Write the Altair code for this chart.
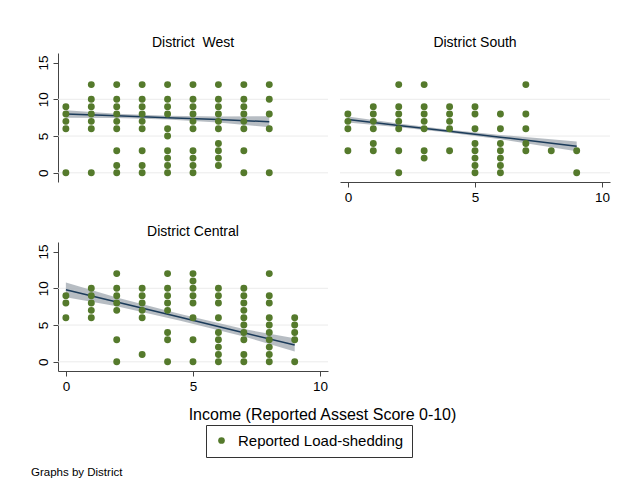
import altair as alt
import pandas as pd

FONT = "Liberation Sans"
DOT = "#557a2c"
LINE = "#1b3b5a"
BAND = "#aab2b9"
legend_label = "Reported Load-shedding"

x_ticks = [0, 5, 10]
y_ticks = [0, 5, 10, 15]
grid_values = [0, 5, 10]
x_domain = [-0.31, 10.31]
y_domain = [-1.25, 16.3]

# observed points: income score -> reported load-shedding values
west_y_by_x = {
    0: [9, 8, 7, 6, 0],
    1: [12, 10, 9, 8, 7, 6, 0],
    2: [12, 10, 9, 8, 7, 6, 3, 1, 0],
    3: [12, 10, 9, 8, 7, 6, 3, 1, 0],
    4: [12, 10, 9, 8, 6, 5, 3, 2, 1, 0],
    5: [12, 10, 9, 8, 7, 6, 3, 2, 1, 0],
    6: [12, 10, 9, 8, 7, 6, 4, 3, 2, 1],
    7: [12, 10, 9, 8, 7, 6, 3, 0],
    8: [12, 10, 8, 6, 0],
}
south_y_by_x = {
    0: [8, 7, 6, 3],
    1: [9, 8, 7, 6, 4, 3],
    2: [12, 9, 8, 7, 6, 3, 0],
    3: [12, 9, 8, 7, 6, 3, 2],
    4: [9, 8, 7, 6, 3],
    5: [9, 8, 6, 4, 3, 2, 1, 0],
    6: [8, 6, 4, 3, 2, 1, 0],
    7: [12, 8, 6, 4, 3],
    8: [3],
    9: [3, 0],
}
central_y_by_x = {
    0: [9, 8, 6],
    1: [10, 9, 8, 7, 6],
    2: [12, 10, 9, 8, 7, 3, 0],
    3: [10, 9, 8, 7, 6, 1],
    4: [12, 10, 9, 8, 7, 4, 3, 0],
    5: [12, 11, 10, 9, 8, 6, 3, 0],
    6: [10, 9, 8, 6, 4, 3, 2, 1, 0],
    7: [10, 9, 8, 7, 6, 5, 4, 3, 1, 0],
    8: [12, 9, 8, 6, 5, 4, 3, 2, 1, 0],
    9: [6, 5, 4, 3, 0],
}

# fitted line with 95% CI
west_fit_x = [0, 2, 4, 6, 8]
west_fit = [8.0, 7.75, 7.5, 7.25, 6.95]
west_lo = [7.5, 7.45, 7.25, 6.85, 6.2]
west_hi = [8.5, 8.05, 7.75, 7.65, 7.7]

south_fit_x = [0, 2, 4, 6, 9]
south_fit = [7.25, 6.45, 5.65, 4.85, 3.6]
south_lo = [6.85, 6.2, 5.45, 4.55, 2.95]
south_hi = [7.65, 6.7, 5.85, 5.15, 4.25]

central_fit_x = [0, 2, 4.5, 7, 9]
central_fit = [9.8, 8.15, 6.05, 3.95, 2.3]
central_lo = [8.8, 7.55, 5.6, 3.45, 1.4]
central_hi = [10.8, 8.75, 6.5, 4.45, 3.2]

W, H = 270, 129
PAD = "\u2003" * 2


def axis_x(show, title=None):
    if not show:
        return None
    kw = dict(values=x_ticks, grid=False, domainColor="#444", tickColor="#444",
              tickSize=5, labelFont=FONT, labelFontSize=13.5, labelColor="black",
              labelPadding=3, title=title)
    if title:
        kw.update(titleFont=FONT, titleFontSize=16, titleFontWeight="normal",
                  titleColor="black", titleX=264, titleY=35, titleBaseline="top",
                  titleAnchor="middle", titleAlign="center")
    return alt.Axis(**kw)


def axis_y(show):
    if not show:
        return None
    return alt.Axis(values=y_ticks, grid=False, domainColor="#444", tickColor="#444",
                    tickSize=5, labelFont=FONT, labelFontSize=13.5, labelColor="black",
                    labelAngle=270, labelAlign="center", labelBaseline="bottom",
                    labelPadding=3, title=None)


def panel(name, y_by_x, fx, fy, lo, hi, show_x, show_y, xtitle=None):
    pts = pd.DataFrame([(x, y) for x, ys in y_by_x.items() for y in ys],
                       columns=["income", "load"])
    pts["series"] = legend_label
    fit = pd.DataFrame({"income": fx, "fit": fy, "lo": lo, "hi": hi})
    grid = pd.DataFrame({"g": grid_values})
    xs = alt.Scale(domain=x_domain, nice=False, zero=False)
    ys = alt.Scale(domain=y_domain, nice=False, zero=False)
    xa = axis_x(show_x, xtitle)
    ya = axis_y(show_y)

    g = alt.Chart(grid).mark_rule(color="#ececec", strokeWidth=1).encode(
        y=alt.Y("g:Q", scale=ys, axis=ya, title=None),
        x=alt.value(0), x2=alt.value(W))
    band = alt.Chart(fit).mark_area(color=BAND, opacity=0.85).encode(
        x=alt.X("income:Q", scale=xs, axis=xa, title=xtitle),
        y=alt.Y("lo:Q", scale=ys, axis=ya, title=None), y2="hi:Q")
    line = alt.Chart(fit).mark_line(color=LINE, strokeWidth=1.5).encode(
        x=alt.X("income:Q", scale=xs, axis=xa, title=xtitle),
        y=alt.Y("fit:Q", scale=ys, axis=ya, title=None))
    dots = alt.Chart(pts).mark_circle(size=48, opacity=1).encode(
        x=alt.X("income:Q", scale=xs, axis=xa, title=xtitle),
        y=alt.Y("load:Q", scale=ys, axis=ya, title=None),
        color=alt.Color("series:N",
                        scale=alt.Scale(domain=[legend_label], range=[DOT]),
                        legend=alt.Legend(orient="none", legendX=148, legendY=372,
                                          title=None, strokeColor="#333",
                                          fillColor="white", padding=8,
                                          symbolType="circle", symbolSize=45,
                                          symbolStrokeWidth=0,
                                          labelFont=FONT, labelFontSize=15,
                                          labelColor="black", labelLimit=400,
                                          labelOffset=9,
                                          labelExpr=f"datum.label + '{PAD}'")))
    return alt.layer(g, band, line, dots).properties(
        width=W, height=H,
        title=alt.TitleParams(name, font=FONT, fontSize=14, fontWeight="normal",
                              color="black", offset=3, anchor="middle"))


west = panel("District\u00a0 West", west_y_by_x, west_fit_x, west_fit, west_lo, west_hi,
             False, True)
south = panel("District South", south_y_by_x, south_fit_x, south_fit, south_lo, south_hi,
              True, False)
central = panel("District Central", central_y_by_x, central_fit_x, central_fit,
                central_lo, central_hi, True, True,
                xtitle="Income (Reported Assest Score 0-10)")

top = alt.hconcat(west, south, spacing=10)
chart = alt.vconcat(top, central, spacing=21).properties(
    title=alt.TitleParams("Graphs by District", orient="bottom", anchor="start",
                          font=FONT, fontSize=11.5, fontWeight="normal",
                          color="black", offset=9, dx=-5),
    padding={"left": 23, "top": 28, "right": 5, "bottom": 5},
    background="white",
).configure_view(stroke=None)

chart.save("out.html", embed_options={"renderer": "svg", "actions": False})
